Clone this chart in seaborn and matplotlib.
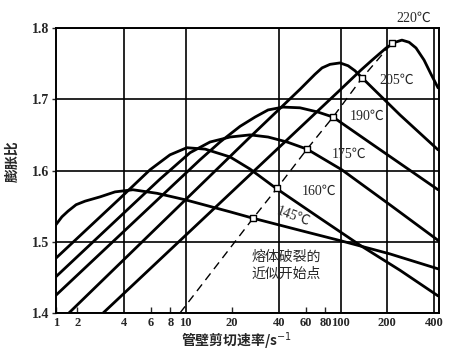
import numpy as np
import pandas as pd
import matplotlib
matplotlib.use("Agg")
import matplotlib.pyplot as plt
import seaborn as sns
from matplotlib.ticker import FixedLocator, FixedFormatter

# Die swell ratio vs. wall shear rate, one curve per melt temperature
rate_145 = [1.0, 1.28, 1.57, 1.95, 2.25, 2.81, 3.51, 4.58, 6.55, 9.93, 19.4, 27.3, 54.8, 102, 208, 426]
swell_145 = [1.524, 1.535, 1.543, 1.552, 1.557, 1.563, 1.570, 1.573, 1.568, 1.559, 1.542, 1.533,
             1.516, 1.501, 1.483, 1.462]

rate_160 = [1.0, 3.78, 5.90, 7.94, 10.2, 13.4, 19.4, 26.1, 38.4, 73.8, 134, 242, 426]
swell_160 = [1.477, 1.561, 1.601, 1.622, 1.632, 1.630, 1.619, 1.602, 1.575, 1.533, 1.495, 1.460, 1.424]

rate_175 = [1.0, 6.85, 10.7, 14.4, 19.4, 26.1, 34.1, 45.2, 60.8, 102, 208, 426]
swell_175 = [1.451, 1.588, 1.625, 1.640, 1.647, 1.650, 1.647, 1.640, 1.630, 1.601, 1.552, 1.502]

rate_190 = [1.0, 12.4, 16.7, 22.5, 28.1, 34.1, 42.6, 54.8, 71.6, 89.5, 155, 261, 426]
swell_190 = [1.425, 1.615, 1.640, 1.662, 1.675, 1.685, 1.689, 1.688, 1.682, 1.675, 1.639, 1.605, 1.573]

rate_205 = [1.61, 26.1, 54.8, 68.4, 76, 85.6, 99.3, 112, 124, 138, 242, 426]
swell_205 = [1.400, 1.647, 1.714, 1.735, 1.744, 1.749, 1.751, 1.747, 1.740, 1.730, 1.678, 1.629]

rate_220 = [2.94, 99.3, 134, 160, 197, 225, 249, 277, 307, 346, 384, 426]
swell_220 = [1.400, 1.713, 1.740, 1.755, 1.772, 1.780, 1.783, 1.780, 1.772, 1.755, 1.735, 1.716]

temps = ["145℃", "160℃", "175℃", "190℃", "205℃", "220℃"]

# approximate onset of melt fracture on each curve
onset_rate = [27.3, 38.9, 60.8, 89.5, 138, 215]
onset_swell = [1.533, 1.575, 1.630, 1.675, 1.730, 1.779]
onset_start_rate = 9.21
onset_start_swell = 1.40

curves = [(rate_145, swell_145), (rate_160, swell_160), (rate_175, swell_175),
          (rate_190, swell_190), (rate_205, swell_205), (rate_220, swell_220)]
df = pd.concat([pd.DataFrame({"rate": r, "swell": s, "temp": t})
                for (r, s), t in zip(curves, temps)], ignore_index=True)

# label anchors (rate, swell) for the temperature tags
label_rate = [49.4, 72.6, 113, 148, 232, 298]
label_swell = [1.535, 1.571, 1.623, 1.676, 1.726, 1.814]

sns.set_style("ticks")
plt.rcParams["font.family"] = ["Liberation Serif", "Noto Sans CJK SC", "DejaVu Sans"]
plt.rcParams["axes.linewidth"] = 1.4

fig = plt.figure(figsize=(4.54, 3.54), dpi=100)
ax = fig.add_axes([0.1233, 0.1158, 0.8447, 0.8051])

for t in temps:
    sns.lineplot(data=df[df["temp"] == t], x="rate", y="swell", sort=False,
                 estimator=None, color="black", lw=2.0, ax=ax, legend=False)

# dashed onset line plus marker squares
dash_x = [onset_start_rate] + onset_rate
dash_y = [onset_start_swell] + onset_swell
ax.plot(dash_x, dash_y, color="black", lw=1.0, ls=(0, (6, 4)), zorder=3)
sns.scatterplot(x=onset_rate, y=onset_swell, marker="s", s=22, color="white",
                edgecolor="black", linewidth=1.0, ax=ax, zorder=4)

# axis: log above 2, the scan squeezes 1..2 into a short stretch
k = np.log10(2) - np.log10(1.46)


def fwd(x):
    x = np.asarray(x, dtype=float)
    lx = np.log10(np.maximum(x, 1e-9))
    return np.where(x >= 2, lx, np.log10(2) - (2 - x) * k)


def inv(u):
    u = np.asarray(u, dtype=float)
    return np.where(u >= np.log10(2), 10 ** np.minimum(u, 10), 2 - (np.log10(2) - u) / k)


ax.set_xscale("function", functions=(fwd, inv))
ax.set_xlim(1, 435)
ax.set_ylim(1.4, 1.8)

major_x = [4, 10, 40, 100, 200, 400]
minor_x = [1, 2, 6, 8, 20, 60, 80]
ax.xaxis.set_major_locator(FixedLocator(major_x))
ax.xaxis.set_major_formatter(FixedFormatter([str(v) for v in major_x]))
ax.xaxis.set_minor_locator(FixedLocator(minor_x))
ax.xaxis.set_minor_formatter(FixedFormatter([str(v) for v in minor_x]))
ax.set_yticks([1.4, 1.5, 1.6, 1.7, 1.8])
ax.set_yticklabels(["1.4", "1.5", "1.6", "1.7", "1.8"])

ax.grid(True, which="major", color="black", lw=1.2)
ax.tick_params(axis="x", which="major", length=0, pad=3, labelsize=9)
ax.tick_params(axis="x", which="minor", direction="in", length=4, width=1, pad=3, labelsize=9)
ax.tick_params(axis="y", which="major", direction="out", length=3, width=1, pad=2, labelsize=10)
for lab in ax.get_xticklabels(which="both") + ax.get_yticklabels():
    lab.set_fontweight("bold")

for sp in ax.spines.values():
    sp.set_color("black")

ax.set_xlabel("")
ax.set_ylabel("")

num_font = ["Liberation Serif", "Noto Sans CJK SC", "DejaVu Sans"]
for i, (t, lx, ly) in enumerate(zip(temps, label_rate, label_swell)):
    rot = -20 if i == 0 else 0
    ax.text(lx, ly, t, ha="center", va="center", fontsize=10, family=num_font,
            rotation=rot, clip_on=False)

ax.text(44.5, 1.467, "熔体破裂的\n近似开始点", ha="center", va="center", fontsize=10,
        family=["Noto Sans CJK SC", "DejaVu Sans"], linespacing=1.3)

fig.text(0.028, 0.545, "膨胀比", rotation=90, ha="center", va="center", fontsize=10,
         fontweight="bold", family=["Noto Sans CJK SC", "DejaVu Sans"])
fig.text(0.52, 0.036, "管壁剪切速率/s$^{-1}$", ha="center", va="center", fontsize=10,
         fontweight="bold", family=["Noto Sans CJK SC", "DejaVu Sans"])

fig.savefig("out.png", dpi=100)
